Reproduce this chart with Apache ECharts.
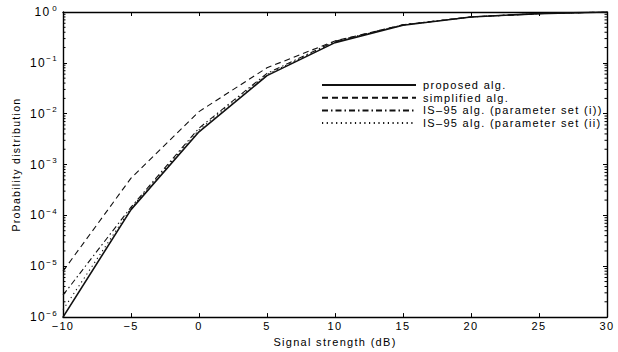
<!DOCTYPE html>
<html><head><meta charset="utf-8">
<script src="https://cdn.jsdelivr.net/npm/echarts@6/dist/echarts.min.js"></script>
<style>html,body{margin:0;padding:0;background:#fff}#c{width:618px;height:352px}
#c text{letter-spacing:1.3px}</style>
</head><body><div id="c"></div>
<script>
const xValues = [-10, -5, 0, 5, 10, 15, 20, 25, 30];
const proposed   = [1.0e-6, 1.3e-4, 4.4e-3, 0.056, 0.25, 0.55, 0.8, 0.93, 1.0];
const simplified = [8.0e-6, 5.4e-4, 1.1e-2, 0.08, 0.27, 0.56, 0.8, 0.93, 1.0];
const is95i      = [2.7e-6, 1.45e-4, 5.2e-3, 0.062, 0.265, 0.56, 0.8, 0.93, 1.0];
const is95ii     = [1.4e-6, 1.38e-4, 4.8e-3, 0.059, 0.26, 0.555, 0.8, 0.93, 1.0];
const seriesNames = ['proposed alg.', 'simplified alg.', 'IS\u201395 alg. (parameter set (i))', 'IS\u201395 alg. (parameter set (ii)'];
const xTicks = [-10, -5, 0, 5, 10, 15, 20, 25, 30];
const minorMantissas = [2, 3, 4, 5, 6, 7, 8, 9];
const decades = [-6, -5, -4, -3, -2, -1];

const font = 'Liberation Sans, Arial, sans-serif';
const chart = echarts.init(document.getElementById('c'), null, {renderer: 'svg'});
const pairs = a => xValues.map((x, i) => [x, a[i]]);
const styles = [
  {type: 'solid', width: 1.6},
  {type: [6, 4], width: 1.1},
  {type: [6, 3, 1.5, 3], width: 1.1},
  {type: [1.2, 3.5], width: 1.1}
];
const data = [proposed, simplified, is95i, is95ii];
const series = data.map((d, i) => ({
  name: seriesNames[i], type: 'line', data: pairs(d), showSymbol: false, symbol: 'none',
  lineStyle: Object.assign({color: '#111'}, styles[i]), itemStyle: {color: '#111'}, animation: false
}));
const minorTickValues = [];
decades.forEach(k => minorMantissas.forEach(m => minorTickValues.push([-10, m * Math.pow(10, k)])));
series.push({
  type: 'custom', silent: true, clip: false, z: 10, data: minorTickValues,
  encode: {x: 0, y: 1},
  renderItem: (params, api) => {
    const v = api.value(1);
    const l = api.coord([-10, v]);
    const r = api.coord([30, v]);
    const st = {stroke: '#000', lineWidth: 1};
    return {type: 'group', children: [
      {type: 'line', shape: {x1: l[0], y1: l[1], x2: l[0] + 2.5, y2: l[1]}, style: st},
      {type: 'line', shape: {x1: r[0], y1: r[1], x2: r[0] - 2.5, y2: r[1]}, style: st}
    ]};
  }
});
const sup = (v) => {
  const e = Math.round(Math.log10(v));
  return '{b|10}{s|' + (e < 0 ? '\u2212' + (-e) : e) + '}';
};
const axisLine = {show: true, onZero: false, lineStyle: {color: '#000', width: 1.4}};
const tick = {inside: true, length: 4, lineStyle: {color: '#000', width: 1}};
chart.setOption({
  animation: false,
  grid: {left: 63, right: 11, top: 12, bottom: 29},
  legend: {
    orient: 'vertical', left: 316, top: 74, itemWidth: 94, itemHeight: 10, itemGap: 0.7,
    data: seriesNames, selectedMode: false,
    itemStyle: {opacity: 0},
    textStyle: {fontFamily: font, fontSize: 11, lineHeight: 12, color: '#000', padding: [0, 0, 0, 2]}
  },
  xAxis: [{
    type: 'value', min: -10, max: 30, interval: 5, name: 'Signal strength (dB)', nameLocation: 'middle', nameGap: 15,
    nameTextStyle: {fontFamily: font, fontSize: 11, color: '#000'},
    axisLine, axisTick: tick,
    axisLabel: {fontFamily: font, fontSize: 11, color: '#000', margin: 3,
      formatter: v => xTicks.includes(v) ? (v < 0 ? '\u2212' + (-v) : String(v)) : ''},
    splitLine: {show: false}
  }, {
    type: 'value', position: 'top', min: -10, max: 30, interval: 5,
    axisLine, axisTick: tick, axisLabel: {show: false}, splitLine: {show: false}
  }],
  yAxis: [{
    type: 'log', logBase: 10, min: 1e-6, max: 1, name: 'Probability distribution', nameLocation: 'middle', nameGap: 38,
    nameTextStyle: {fontFamily: font, fontSize: 10.5, color: '#000'},
    axisLine, axisTick: tick,
    axisLabel: {fontFamily: font, color: '#000', margin: 5, formatter: sup,
      rich: {b: {fontSize: 12, fontFamily: font, color: '#000'}, s: {fontSize: 8, fontFamily: font, color: '#000', padding: [0, 0, 8, 3]}}},
    splitLine: {show: false}
  }, {
    type: 'log', logBase: 10, min: 1e-6, max: 1, position: 'right',
    axisLine, axisTick: tick, axisLabel: {show: false}, splitLine: {show: false}
  }],
  series
});
</script></body></html>
